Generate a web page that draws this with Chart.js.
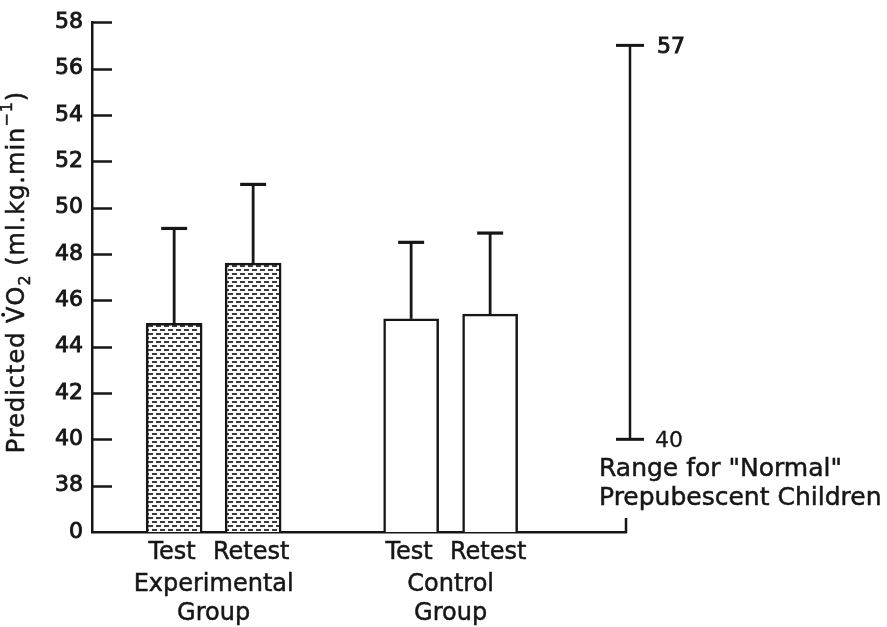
<!DOCTYPE html>
<html>
<head>
<meta charset="utf-8">
<title>Predicted VO2 - Experimental vs Control</title>
<script src="https://cdn.jsdelivr.net/npm/chart.js@4.4.0/dist/chart.umd.min.js"></script>
<style>
  html, body { margin: 0; padding: 0; background: #fff; }
  #wrap { width: 887px; height: 627px; }
</style>
</head>
<body>
<div id="wrap"><canvas id="vo2Chart" width="887" height="627"></canvas></div>
<script>
// Predicted VO2 (ml.kg.min-1): group means with the upper SD bar
const groups = ['Experimental', 'Control'];
const conditions = ['Test', 'Retest'];
const experimentalMean = [45.0, 47.6];
const experimentalSD = [4.1, 3.4];
const controlMean = [45.2, 45.4];
const controlSD = [3.3, 3.5];

// "normal" range for prepubescent children
const normalRange = [40, 57];
const normalRangeText = ['Range for "Normal"', 'Prepubescent Children'];

// y axis is broken below 38, the bottom tick is printed as 0
const yMin = 36;
const yMax = 58;
const yStep = 2;
const yBreakLabel = '0';

const INK = '#161616';
const FONT = '"DejaVu Sans", sans-serif';

// each group takes two slots plus one empty slot as a gap
function slotOf(g, c) {
    return g * (conditions.length + 1) + c;
}

function makeDashPattern(ctx) {
    const c = document.createElement('canvas');
    c.width = 8;
    c.height = 8;
    const p = c.getContext('2d');
    p.fillStyle = '#fff';
    p.fillRect(0, 0, 8, 8);
    p.fillStyle = '#3c3c3c';
    p.fillRect(0, 1, 5, 2);
    p.fillRect(4, 5, 4, 2);
    p.fillRect(0, 5, 1, 2);
    return ctx.createPattern(c, 'repeat');
}

// fill plus a thin stroke so the type has the weight of the printed figure
function inkText(ctx, text, x, y) {
    ctx.fillText(text, x, y);
    ctx.strokeText(text, x, y);
}

// draws the y title with the dot over V, subscript 2 and superscript -1
function drawYTitle(ctx, cx, cy) {
    const size = 24;
    const small = Math.round(size * 0.66);
    const parts = [
        { t: 'Predicted ', f: size, dy: 0 },
        { t: 'V', f: size, dy: 0, dot: true },
        { t: 'O', f: size, dy: 0 },
        { t: '2', f: small, dy: size * 0.32 },
        { t: ' (ml.kg.min', f: size, dy: 0 },
        { t: '\u22121', f: small, dy: -size * 0.42 },
        { t: ')', f: size, dy: 0 }
    ];
    ctx.save();
    ctx.translate(cx, cy);
    ctx.rotate(-Math.PI / 2);
    ctx.textBaseline = 'middle';
    ctx.textAlign = 'left';
    ctx.lineWidth = 0.5;
    if ('letterSpacing' in ctx) ctx.letterSpacing = '1px';
    let total = 0;
    parts.forEach(p => {
        ctx.font = p.f + 'px ' + FONT;
        p.w = ctx.measureText(p.t).width;
        total += p.w;
    });
    let x = -total / 2;
    parts.forEach(p => {
        ctx.font = p.f + 'px ' + FONT;
        inkText(ctx, p.t, x, p.dy);
        if (p.dot) {
            ctx.beginPath();
            ctx.arc(x + p.w / 2 - 0.5, -size * 0.62, 2, 0, Math.PI * 2);
            ctx.fill();
        }
        x += p.w;
    });
    ctx.restore();
}

const figurePlugin = {
    id: 'figureMarks',
    afterDatasetsDraw(chart) {
        const { ctx, chartArea } = chart;
        const xs = chart.scales.x;
        const ys = chart.scales.y;
        ctx.save();
        ctx.strokeStyle = INK;
        ctx.fillStyle = INK;
        ctx.lineCap = 'butt';

        // inward tick marks on the y axis
        ctx.lineWidth = 2.5;
        ys.ticks.forEach(t => {
            const y = Math.round(ys.getPixelForValue(t.value)) + 0.5;
            if (t.value === yMin) return;
            ctx.beginPath();
            ctx.moveTo(chartArea.left, y);
            ctx.lineTo(chartArea.left + 20, y);
            ctx.stroke();
        });

        // small upturn closing the baseline on the right
        ctx.beginPath();
        ctx.moveTo(chartArea.right, chartArea.bottom + 1);
        ctx.lineTo(chartArea.right, chartArea.bottom - 14);
        ctx.stroke();

        // upper SD bars
        const sets = [
            { mean: experimentalMean, sd: experimentalSD },
            { mean: controlMean, sd: controlSD }
        ];
        sets.forEach((s, di) => {
            chart.getDatasetMeta(di).data.forEach((bar, i) => {
                const top = ys.getPixelForValue(s.mean[i] + s.sd[i]);
                ctx.lineWidth = 2.8;
                ctx.beginPath();
                ctx.moveTo(bar.x, bar.y);
                ctx.lineTo(bar.x, top);
                ctx.stroke();
                ctx.lineWidth = 3.2;
                ctx.beginPath();
                ctx.moveTo(bar.x - 13, top);
                ctx.lineTo(bar.x + 13, top);
                ctx.stroke();
            });
        });

        // normal range bar
        const rx = chartArea.right + 4;
        const rLow = ys.getPixelForValue(normalRange[0]);
        const rHigh = ys.getPixelForValue(normalRange[1]);
        ctx.lineWidth = 2.5;
        ctx.beginPath();
        ctx.moveTo(rx, rLow);
        ctx.lineTo(rx, rHigh);
        ctx.stroke();
        ctx.lineWidth = 3;
        [rLow, rHigh].forEach(y => {
            ctx.beginPath();
            ctx.moveTo(rx - 14, y);
            ctx.lineTo(rx + 14, y);
            ctx.stroke();
        });
        ctx.textAlign = 'left';
        ctx.textBaseline = 'middle';
        ctx.font = '22px ' + FONT;
        ctx.lineWidth = 0.9;
        inkText(ctx, String(normalRange[1]), rx + 27, rHigh + 2);
        ctx.lineWidth = 0.3;
        inkText(ctx, String(normalRange[0]), rx + 25, rLow + 2);
        ctx.font = '25px ' + FONT;
        ctx.lineWidth = 0.5;
        inkText(ctx, normalRangeText[0], rx - 31, rLow + 30);
        inkText(ctx, normalRangeText[1], rx - 31, rLow + 59);

        // category and group labels under the baseline
        ctx.textAlign = 'center';
        ctx.font = '24px ' + FONT;
        groups.forEach((g, gi) => {
            const px = conditions.map((c, ci) => xs.getPixelForValue(slotOf(gi, ci)));
            conditions.forEach((c, ci) => {
                inkText(ctx, c, px[ci] - 2, chartArea.bottom + 21);
            });
            const mid = (px[0] + px[px.length - 1]) / 2;
            inkText(ctx, g, mid, chartArea.bottom + 53);
            inkText(ctx, 'Group', mid, chartArea.bottom + 82);
        });

        drawYTitle(ctx, 18, 272);
        ctx.restore();
    }
};

const canvas = document.getElementById('vo2Chart');
const ctx = canvas.getContext('2d');
const dashPattern = makeDashPattern(ctx);

new Chart(ctx, {
    type: 'bar',
    data: {
        datasets: [{
            label: groups[0],
            data: experimentalMean.map((v, i) => ({ x: slotOf(0, i), y: v })),
            backgroundColor: dashPattern,
            borderColor: INK,
            borderWidth: 2.5,
            borderSkipped: false,
            barThickness: 56,
            grouped: false
        }, {
            label: groups[1],
            data: controlMean.map((v, i) => ({ x: slotOf(1, i), y: v })),
            backgroundColor: '#fff',
            borderColor: INK,
            borderWidth: 2.5,
            borderSkipped: false,
            barThickness: 55,
            grouped: false
        }]
    },
    options: {
        responsive: false,
        animation: false,
        devicePixelRatio: 1,
        layout: {
            padding: { top: 21, right: 261, bottom: 95, left: 0 }
        },
        plugins: {
            legend: { display: false },
            tooltip: { enabled: false }
        },
        scales: {
            x: {
                type: 'linear',
                offset: false,
                min: -1.04,
                max: 5.72,
                grid: { display: false, drawTicks: false },
                border: { display: true, color: INK, width: 2.5 },
                ticks: { display: false },
                afterFit: s => { s.height = 0; }
            },
            y: {
                min: yMin,
                max: yMax,
                grid: { display: false, drawTicks: false },
                border: { display: true, color: INK, width: 2.5 },
                ticks: {
                    stepSize: yStep,
                    padding: 9,
                    color: INK,
                    textStrokeColor: INK,
                    textStrokeWidth: 0.9,
                    font: { family: FONT, size: 22 },
                    callback: v => (v === yMin ? yBreakLabel : v)
                },
                afterFit: s => { s.width = 92; }
            }
        }
    },
    plugins: [figurePlugin]
});
</script>
</body>
</html>
